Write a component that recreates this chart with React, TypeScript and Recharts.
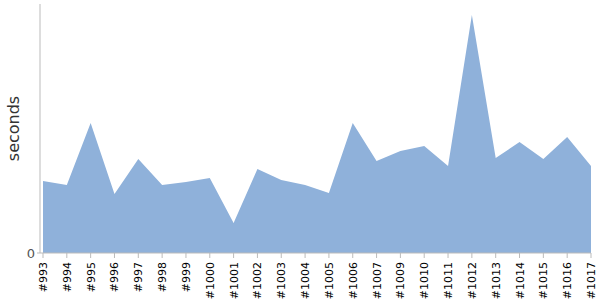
import React from "react";
import { AreaChart, Area, XAxis, YAxis } from "recharts";

const builds = [
  "#993", "#994", "#995", "#996", "#997", "#998", "#999", "#1000", "#1001", "#1002",
  "#1003", "#1004", "#1005", "#1006", "#1007", "#1009", "#1010", "#1011", "#1012",
  "#1013", "#1014", "#1015", "#1016", "#1017",
];
const seconds = [
  72, 68, 130, 59, 94, 68, 71, 75, 30, 84, 73, 68, 60, 130, 92, 102, 107, 87, 238,
  95, 111, 94, 116, 87,
];
const yTicks = [0];

const data = builds.map((b, i) => ({ build: b, seconds: seconds[i] }));

const FONT = "DejaVu Sans, Verdana, sans-serif";

const XTick = (props: any) => {
  const { x, y, payload } = props;
  return (
    <text
      x={0}
      y={0}
      transform={`translate(${x + 4},${y + 2}) rotate(-90)`}
      textAnchor="end"
      fontSize={11}
      fontFamily={FONT}
      fill="#000"
    >
      {payload.value}
    </text>
  );
};

export default function App() {
  return (
    <div style={{ position: "absolute", left: 0, top: 0, width: 600, height: 300, background: "#fff" }}>
      <AreaChart
        width={600}
        height={300}
        data={data}
        margin={{ top: 4, right: 9, bottom: 0, left: 0 }}
      >
        <XAxis
          dataKey="build"
          interval={0}
          height={47}
          padding={{ left: 3, right: 0 }}
          tick={<XTick />}
          tickSize={5}
          axisLine={{ stroke: "#bbb" }}
          tickLine={{ stroke: "#bbb" }}
        />
        <YAxis
          width={40}
          domain={[0, 249]}
          ticks={yTicks}
          tickSize={3}
          axisLine={{ stroke: "#bbb" }}
          tickLine={{ stroke: "#bbb" }}
          tick={{ fontSize: 13, fill: "#555", fontFamily: FONT }}
          label={{
            value: "seconds",
            angle: -90,
            position: "insideLeft",
            dx: 8,
            style: { fontSize: 16, fill: "#333", fontFamily: FONT, textAnchor: "middle" },
          }}
        />
        <Area
          type="linear"
          dataKey="seconds"
          stroke="none"
          fill="#8fb1da"
          fillOpacity={1}
          isAnimationActive={false}
        />
      </AreaChart>
    </div>
  );
}
